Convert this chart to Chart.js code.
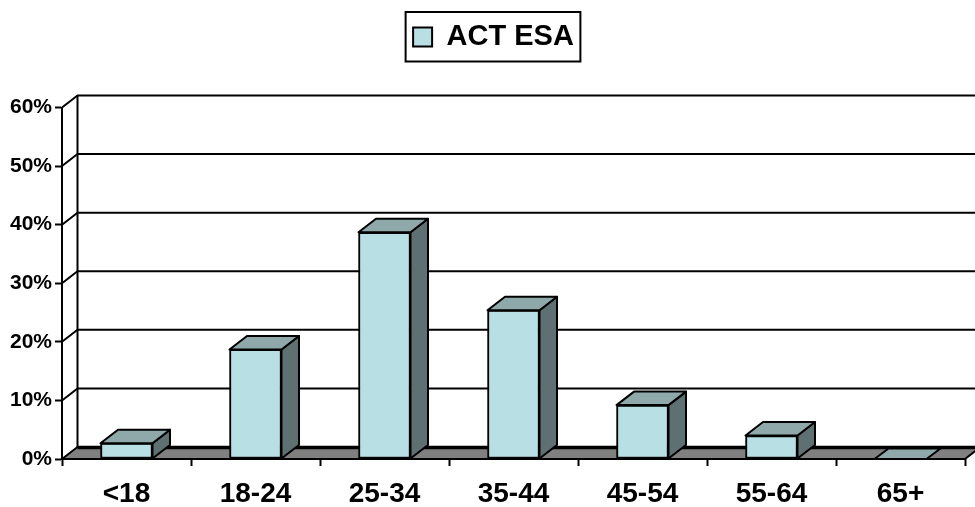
<!DOCTYPE html>
<html>
<head>
<meta charset="utf-8">
<style>
  html, body { margin: 0; padding: 0; background: #fff; }
  #wrap { width: 975px; height: 507px; }
</style>
<script src="https://cdn.jsdelivr.net/npm/chart.js@4/dist/chart.umd.js"></script>
</head>
<body>
<div id="wrap"><canvas id="c" width="975" height="507"></canvas></div>
<script>
const categories = ['<18', '18-24', '25-34', '35-44', '45-54', '55-64', '65+'];
const actEsa = [2.7, 18.7, 38.7, 25.4, 9.2, 4.0, 0];
const seriesName = 'ACT ESA';
const axisMax = 60;
const axisStep = 10;

const INK = '#000000';
const FRONT = '#B8DFE3';
const TOP = '#8FA8AA';
const SIDE = '#5F7072';
const FLOOR = '#808080';
const FONT = '"Liberation Sans", Arial, sans-serif';

const WALL_DX = 15.5, WALL_DY = -12;
const BAR_DX = 17.5, BAR_DY = -13.5;
const FLAT_DX = 14, FLAT_DY = -10.5;
const LEGEND_GAP = 46;
const LEGEND_SHIFT = 11;

function poly(ctx, pts, fill) {
  ctx.beginPath();
  pts.forEach((p, i) => i ? ctx.lineTo(p[0], p[1]) : ctx.moveTo(p[0], p[1]));
  ctx.closePath();
  if (fill) { ctx.fillStyle = fill; ctx.fill(); }
  ctx.stroke();
}

const room = {
  id: 'room',
  // Reserve space under the legend before the chart area is laid out.
  beforeLayout(chart) {
    const lg = chart.legend;
    if (lg && !lg.spaced) {
      const fit = lg.fit;
      lg.fit = function () { fit.call(this); this.height += LEGEND_GAP; };
      lg.spaced = true;
    }
  },
  // The legend sits slightly right of the canvas centre.
  afterLayout(chart) {
    chart.legend.left += LEGEND_SHIFT;
    chart.legend.right += LEGEND_SHIFT;
  },
  // Back wall, floor and the slanted joints behind the axes.
  beforeDatasetsDraw(chart) {
    const { ctx, chartArea: a, scales: { y } } = chart;
    ctx.save();
    ctx.strokeStyle = INK;
    ctx.lineJoin = 'round';
    ctx.lineWidth = 2;
    const backX = a.left + WALL_DX;
    for (let v = axisStep; v <= axisMax; v += axisStep) {
      const py = y.getPixelForValue(v);
      ctx.beginPath();
      ctx.moveTo(a.left, py);
      ctx.lineTo(backX, py + WALL_DY);
      ctx.lineTo(chart.width, py + WALL_DY);
      ctx.stroke();
    }
    ctx.beginPath();
    ctx.moveTo(backX, y.getPixelForValue(axisMax) + WALL_DY);
    ctx.lineTo(backX, y.getPixelForValue(0) + WALL_DY);
    ctx.stroke();

    const y0 = y.getPixelForValue(0);
    poly(ctx, [[a.left, y0], [backX, y0 + WALL_DY], [a.right + WALL_DX, y0 + WALL_DY], [a.right, y0]], FLOOR);
    ctx.lineWidth = 3.5;
    ctx.beginPath();
    ctx.moveTo(backX, y0 + WALL_DY + 0.5);
    ctx.lineTo(chart.width, y0 + WALL_DY + 0.5);
    ctx.stroke();
    ctx.lineWidth = 2;
    ctx.beginPath();
    ctx.moveTo(a.left, y0);
    ctx.lineTo(a.right, y0);
    ctx.stroke();
    ctx.restore();
  },
  // Side and top faces of each bar, taken from the bar elements themselves.
  afterDatasetsDraw(chart) {
    const { ctx } = chart;
    ctx.save();
    ctx.strokeStyle = INK;
    ctx.lineJoin = 'round';
    ctx.lineWidth = 2;
    chart.getDatasetMeta(0).data.forEach(bar => {
      const l = bar.x - bar.width / 2, r = bar.x + bar.width / 2;
      const t = bar.y, b = bar.base;
      const raised = b - t > 0.5;
      const dx = raised ? BAR_DX : FLAT_DX;
      const dy = raised ? BAR_DY : FLAT_DY;
      if (raised) {
        poly(ctx, [[r, t], [r + dx, t + dy], [r + dx, b + dy], [r, b]], SIDE);
      }
      poly(ctx, [[l, t], [l + dx, t + dy], [r + dx, t + dy], [r, t]], TOP);
    });
    ctx.restore();
  },
  // Frame around the legend.
  afterDraw(chart) {
    const lg = chart.legend, { ctx } = chart;
    const hit = lg.legendHitBoxes[0];
    const cx = (lg.left + lg.right) / 2 - 0.5;
    const w = hit.width + 14;
    ctx.save();
    ctx.strokeStyle = INK;
    ctx.lineWidth = 2;
    ctx.strokeRect(cx - w / 2, lg.top, w, lg.height - LEGEND_GAP);
    ctx.restore();
  }
};

new Chart(document.getElementById('c'), {
  type: 'bar',
  data: {
    labels: categories,
    datasets: [{
      label: seriesName,
      data: actEsa,
      backgroundColor: FRONT,
      borderColor: INK,
      borderWidth: 2,
      borderSkipped: false,
      barThickness: 52
    }]
  },
  options: {
    responsive: false,
    animation: false,
    layout: { padding: { top: 12, left: 0, right: 10, bottom: 0 } },
    plugins: {
      tooltip: { enabled: false },
      legend: {
        display: true,
        position: 'top',
        align: 'center',
        labels: {
          boxWidth: 19,
          boxHeight: 19,
          padding: 10.5,
          color: INK,
          font: { family: FONT, size: 29, weight: 'bold' }
        }
      }
    },
    scales: {
      x: {
        offset: true,
        afterFit(scale) { scale.height = 48; },
        border: { display: false },
        grid: {
          display: true,
          drawOnChartArea: false,
          drawTicks: true,
          tickLength: 7,
          tickWidth: 2,
          tickColor: INK
        },
        ticks: {
          color: INK,
          padding: 11,
          maxRotation: 0,
          autoSkip: false,
          font: { family: FONT, size: 28, weight: 'bold' }
        }
      },
      y: {
        min: 0,
        max: axisMax,
        afterFit(scale) { scale.width = 62; },
        border: { display: true, color: INK, width: 2 },
        grid: {
          display: true,
          drawOnChartArea: false,
          drawTicks: true,
          tickLength: 7,
          tickWidth: 2,
          tickColor: INK
        },
        ticks: {
          stepSize: axisStep,
          color: INK,
          padding: 3,
          callback: v => v + '%',
          font: { family: FONT, size: 21, weight: 'bold' }
        }
      }
    }
  },
  plugins: [room]
});
</script>
</body>
</html>
